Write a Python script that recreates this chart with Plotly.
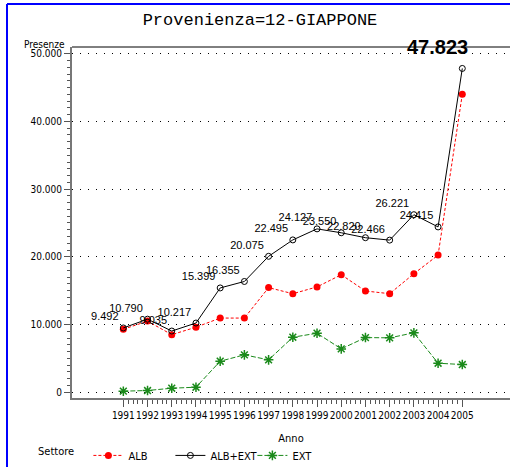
import plotly.graph_objects as go

anni = list(range(1991, 2006))
alb = [9300, 10500, 8500, 9600, 10950, 10950, 15450, 14550, 15550, 17350, 14950, 14550, 17500, 20250, 44000]
alb_ext = [9492, 10790, 9035, 10217, 15399, 16355, 20075, 22495, 24127, 23550, 22820, 22466, 26221, 24415, 47823]
ext = [150, 250, 590, 740, 4580, 5520, 4780, 8120, 8710, 6400, 8070, 8030, 8770, 4280, 4090]

y_ticks = [0, 10000, 20000, 30000, 40000, 50000]

W, H = 510, 467
L, R, T, B = 72, 0, 47, 68.5
pw, ph = W - L - R, H - T - B


def px_x(p):
    return (p - L) / pw


def px_y(p):
    return (H - B - p) / ph


def fmt(v):
    return f"{v:,}".replace(",", ".")


narrow = dict(family="DejaVu Sans Condensed, Liberation Sans Narrow, sans-serif", color="black")

fig = go.Figure()

fig.add_trace(go.Scatter(
    x=anni, y=alb, name="ALB", mode="lines+markers",
    line=dict(color="#ff0000", width=1, dash="3px,2px"),
    marker=dict(color="#ff0000", size=7, symbol="circle"),
))

fig.add_trace(go.Scatter(
    x=anni, y=alb_ext, name="ALB+EXT", mode="lines+markers+text",
    line=dict(color="black", width=1),
    marker=dict(color="black", size=6, symbol="circle-open", line=dict(color="black", width=1)),
    text=[fmt(v) for v in alb_ext[:-1]] + [""],
    textposition="top left",
    textfont=dict(family="Liberation Sans, Arial, sans-serif", size=11, color="black"),
))

fig.add_trace(go.Scatter(
    x=anni, y=ext, name="EXT", mode="lines+markers",
    line=dict(color="#1a8a1a", width=1, dash="5px,2px"),
    marker=dict(color="#1a8a1a", size=8, symbol="asterisk-open", line=dict(color="#1a8a1a", width=1.5)),
))

# valore finale evidenziato
fig.add_annotation(
    x=anni[-1], y=alb_ext[-1], text="<b>" + fmt(alb_ext[-1]) + "</b>",
    showarrow=False, xanchor="center", yanchor="bottom", xshift=-25, yshift=8,
    font=dict(family="Liberation Sans, Arial, sans-serif", size=20, color="black"),
)

fig.add_annotation(
    x=px_x(67), y=px_y(44), xref="paper", yref="paper", text="Presenze",
    showarrow=False, xanchor="right", yanchor="middle",
    font=dict(size=10, **narrow),
)

# cornice
fig.add_shape(type="line", xref="paper", yref="paper", x0=0, x1=1, y0=1, y1=1,
              line=dict(color="black", width=1))
fig.add_shape(type="line", xref="paper", yref="paper", x0=px_x(7), x1=1.05, y0=px_y(4), y1=px_y(4),
              line=dict(color="#0000ff", width=2))
fig.add_shape(type="line", xref="paper", yref="paper", x0=px_x(7), x1=px_x(7), y0=px_y(4), y1=px_y(470),
              line=dict(color="#0000ff", width=2))

fig.update_layout(
    width=W, height=H,
    margin=dict(l=L, r=R, t=T, b=B, autoexpand=False),
    plot_bgcolor="white", paper_bgcolor="white",
    separators=",.",
    title=dict(text="Provenienza=12-GIAPPONE", x=260 / W, xanchor="center",
               y=1 - 19 / H, yanchor="middle",
               font=dict(family="Liberation Mono, monospace", size=17, color="black")),
    legend=dict(
        orientation="h", x=px_x(36), xanchor="left", y=px_y(456), yanchor="middle",
        title=dict(text="Settore  ", font=dict(size=11, **narrow)),
        font=dict(size=11, **narrow),
        entrywidth=37, entrywidthmode="pixels",
        itemwidth=30,
    ),
    showlegend=True,
)

fig.update_xaxes(
    range=[1988.88, 2006.97],
    tickmode="array", tickvals=anni, ticktext=[str(a) for a in anni],
    tickangle=0,
    ticks="outside", ticklen=7, tickwidth=1, tickcolor="#555555",
    minor=dict(tickmode="array",
               tickvals=[a + k * 0.2 for a in anni[:-1] for k in range(1, 5)],
               ticks="outside", ticklen=4, tickcolor="#555555", showgrid=False),
    showline=True, linecolor="#777777", linewidth=2,
    showgrid=False, zeroline=False,
    tickfont=dict(size=10, **narrow),
    title=dict(text="Anno", font=dict(size=11, **narrow), standoff=14),
)

fig.update_yaxes(
    range=[-856, 50990],
    tickmode="array", tickvals=y_ticks, ticktext=[fmt(v) for v in y_ticks],
    ticks="outside", ticklen=6, tickwidth=1, tickcolor="#555555",
    minor=dict(tickmode="array",
               tickvals=[v for v in range(0, 50001, 1000) if v % 10000],
               ticks="outside", ticklen=3, tickcolor="#555555", showgrid=False),
    showline=True, linecolor="#777777", linewidth=2,
    showgrid=True, gridcolor="black", gridwidth=1, griddash="1px,7px",
    zeroline=False,
    tickfont=dict(size=10, **narrow),
)

fig.write_html("out.html", config={"displayModeBar": False},
               post_script="document.body.style.margin = '0';")
